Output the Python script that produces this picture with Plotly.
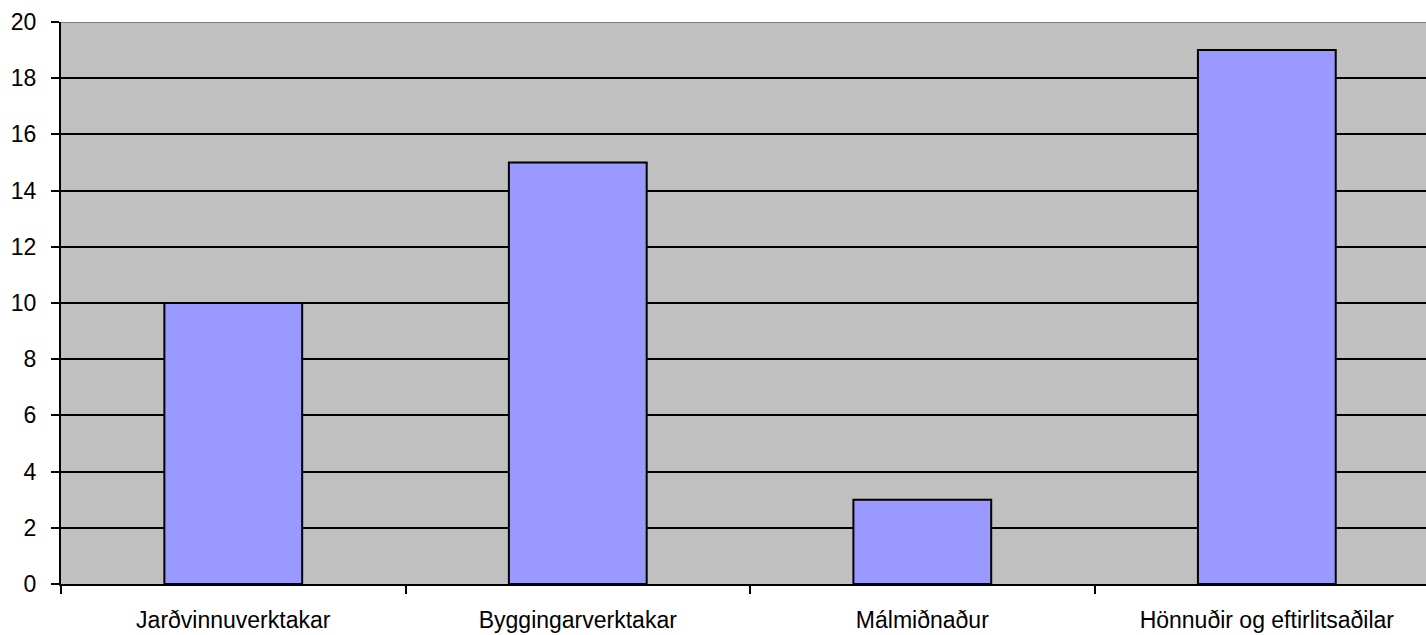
import plotly.graph_objects as go

categories = ["Jarðvinnuverktakar", "Byggingarverktakar", "Málmiðnaður", "Hönnuðir og eftirlitsaðilar"]
values = [10, 15, 3, 19]
y_ticks = [0, 2, 4, 6, 8, 10, 12, 14, 16, 18, 20]

font = dict(family="Liberation Sans, Arial, sans-serif", size=23, color="black")

fig = go.Figure(go.Bar(
    x=categories, y=values,
    marker=dict(color="#9999FF", line=dict(color="black", width=2)),
    width=0.4,
))

fig.update_layout(
    width=1426, height=635,
    margin=dict(l=61, r=0, t=22, b=51),
    paper_bgcolor="white", plot_bgcolor="#C0C0C0",
    font=font, showlegend=False,
)
fig.update_xaxes(
    type="category", range=[-0.5, 3.462],
    showline=True, linecolor="black", linewidth=2,
    ticks="outside", tickson="boundaries", ticklen=8, tickwidth=2, tickcolor="black",
    showgrid=False, tickfont=font, ticklabelstandoff=14,
)
fig.update_yaxes(
    range=[0, 20], tickvals=y_ticks,
    showline=True, linecolor="black", linewidth=2,
    ticks="outside", ticklen=8, tickwidth=2, tickcolor="black",
    showgrid=True, gridcolor="black", gridwidth=2, zeroline=False,
    tickfont=font, ticklabelstandoff=10,
)
fig.add_shape(type="line", xref="paper", yref="y", x0=0, x1=1, y0=20, y1=20,
              line=dict(color="#7F7F7F", width=2), layer="above")

fig.write_html(
    "out.html",
    config={"displayModeBar": False},
    post_script="document.body.style.margin='0';document.body.style.overflow='hidden';",
)
